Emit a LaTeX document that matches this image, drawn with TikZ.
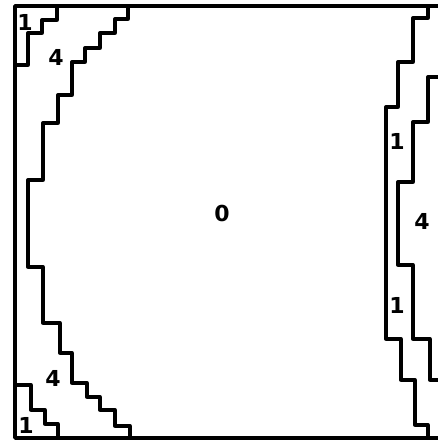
\documentclass[tikz,border=0pt]{standalone}
\usepackage{fontspec}
\setmainfont{DejaVu Sans}
\begin{document}
\begin{tikzpicture}[x=1pt,y=-1pt,
    line join=round,
    contour/.style={line width=3.3pt},
    frame/.style={line width=3.8pt},
    lab/.style={font=\fontsize{22}{22}\selectfont\bfseries,inner sep=0pt}]
    \useasboundingbox (0,0) rectangle (438,440);
    % outer box, cut at the right
    \draw[frame] (438,6) -- (15,6) -- (15,438) -- (438,438);
    % left side
    \draw[contour] (57,6) -- (57,20) -- (42,20) -- (42,33) -- (28,33) -- (28,65) -- (15,65);
    \draw[contour] (128,6) -- (128,19) -- (115,19) -- (115,33) -- (100,33) -- (100,48)
        -- (85,48) -- (85,62) -- (72,62) -- (72,95) -- (58,95) -- (58,123) -- (43,123)
        -- (43,180) -- (28,180) -- (28,267) -- (43,267) -- (43,323) -- (60,323)
        -- (60,353) -- (72,353) -- (72,383) -- (87,383) -- (87,397) -- (100,397)
        -- (100,410) -- (115,410) -- (115,426) -- (130,426) -- (130,438);
    \draw[contour] (15,385) -- (31,385) -- (31,410) -- (45,410) -- (45,424) -- (58,424) -- (58,438);
    % right side
    \draw[contour] (428,6) -- (428,18) -- (413,18) -- (413,62) -- (398,62) -- (398,107)
        -- (386,107) -- (386,339) -- (401,339) -- (401,380) -- (415,380) -- (415,425)
        -- (428,425) -- (428,438);
    \draw[contour] (438,77) -- (428,77) -- (428,122) -- (413,122) -- (413,182) -- (398,182)
        -- (398,265) -- (413,265) -- (413,339) -- (430,339) -- (430,380) -- (438,380);
    % zone numbers
    \node[lab] (tl1) at (25,22) {1};
    \node[lab] (tl4) at (56,57) {4};
    \node[lab] (mid) at (222,213) {0};
    \node[lab] (bl4) at (53,378) {4};
    \node[lab] (bl1) at (26,425) {1};
    \node[lab] (r1a) at (397,141) {1};
    \node[lab] (r4) at (422,221) {4};
    \node[lab] (r1b) at (397,305) {1};
\end{tikzpicture}
\end{document}
